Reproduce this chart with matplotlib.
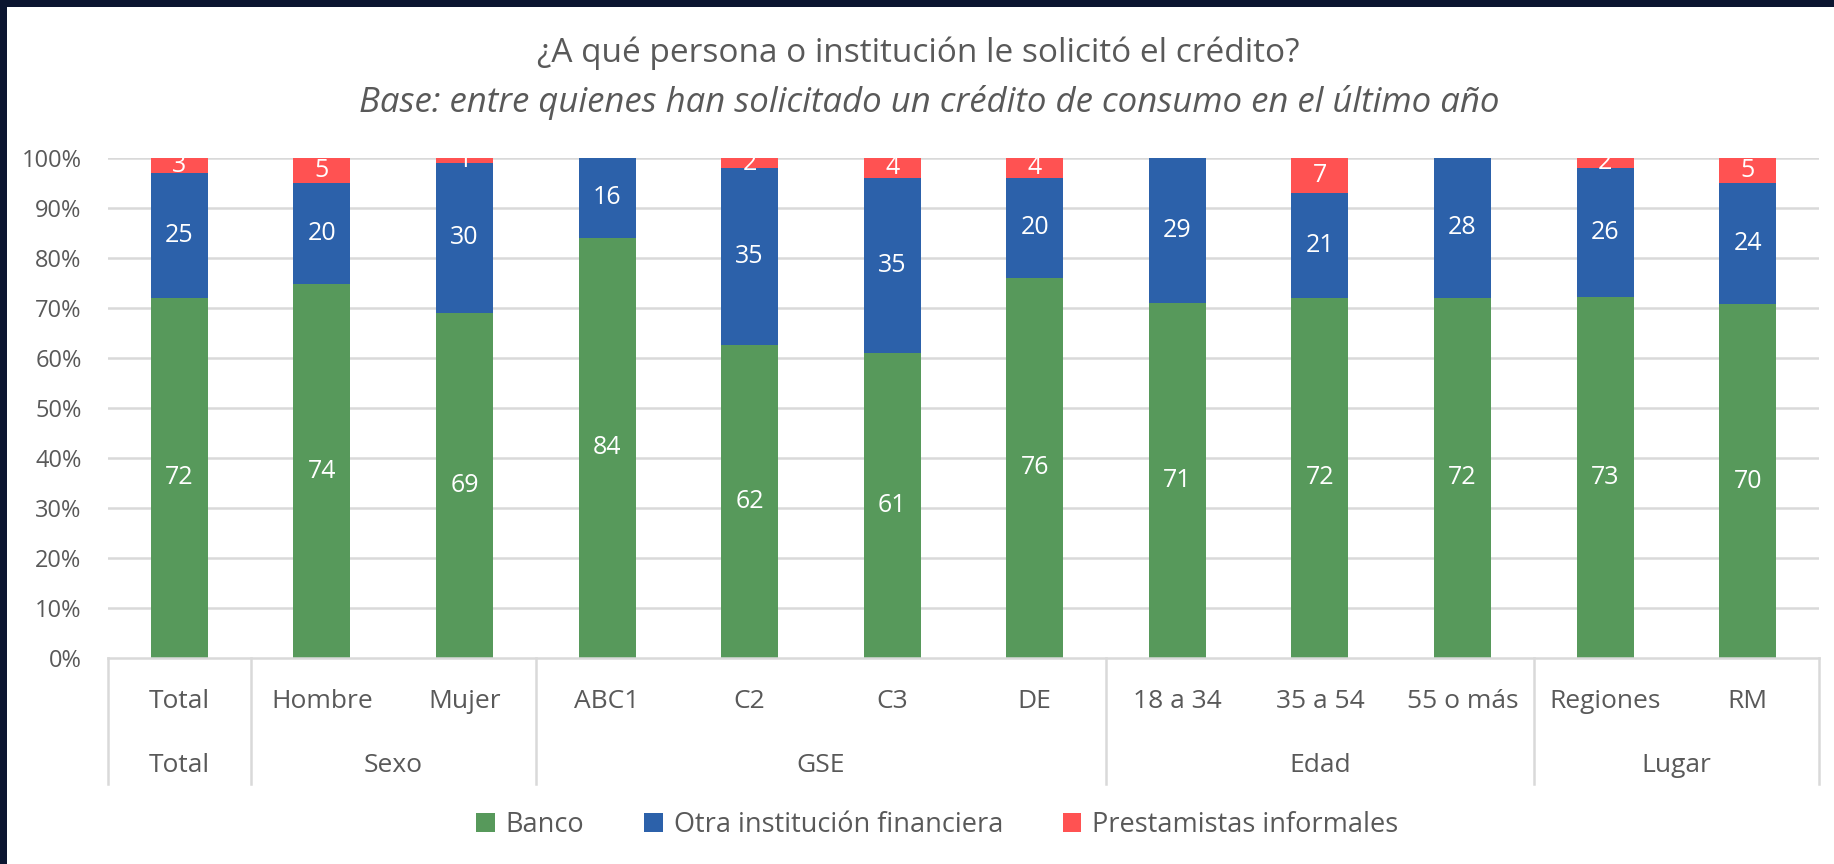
import matplotlib
matplotlib.use("Agg")
import matplotlib.pyplot as plt
from matplotlib.patches import Rectangle, Patch
import numpy as np

plt.rcParams['font.family'] = ['Open Sans', 'DejaVu Sans']

# data
categories = ['Total', 'Hombre', 'Mujer', 'ABC1', 'C2', 'C3', 'DE',
              '18 a 34', '35 a 54', '55 o más', 'Regiones', 'RM']
groups = ['Total', 'Sexo', 'GSE', 'Edad', 'Lugar']
group_sizes = [1, 2, 4, 3, 2]
series = ['Banco', 'Otra institución financiera', 'Prestamistas informales']
banco = [72, 74, 69, 84, 62, 61, 76, 71, 72, 72, 73, 70]
otra = [25, 20, 30, 16, 35, 35, 20, 29, 21, 28, 26, 24]
informal = [3, 5, 1, 0, 2, 4, 4, 0, 7, 0, 2, 5]

colors = ['#57995B', '#2C61AA', '#FF5252']
text_gray = '#595959'
grid_gray = '#D9D9D9'

W, H = 1834, 864
fig = plt.figure(figsize=(W / 100, H / 100), dpi=100)
fig.patch.set_facecolor('#0B1530')
# white panel
fig.patches.append(Rectangle((7 / W, 0), 1, 1 - 7 / H, transform=fig.transFigure,
                             facecolor='white', edgecolor='none', zorder=-10))

ax = fig.add_axes([108 / W, 206 / H, (1819 - 108) / W, 500 / H])
ax.set_facecolor('none')

vals = np.array([banco, otra, informal], dtype=float)
pct = vals / vals.sum(axis=0) * 100
x = np.arange(len(categories))
bottom = np.zeros(len(categories))
for i in range(3):
    ax.bar(x, pct[i], 0.4, bottom=bottom, color=colors[i], zorder=3)
    for j in range(len(categories)):
        if vals[i, j] > 0:
            ax.text(x[j], bottom[j] + pct[i, j] / 2, '%d' % vals[i, j],
                    ha='center', va='center', color='white', fontsize=18, zorder=4)
    bottom += pct[i]

ax.set_xlim(-0.5, len(categories) - 0.5)
ax.set_ylim(0, 100)
ax.set_yticks(range(0, 101, 10))
ax.set_yticklabels(['%d%%' % v for v in range(0, 101, 10)])
ax.tick_params(axis='y', length=0, pad=19, labelsize=17, labelcolor=text_gray)
for v in range(10, 101, 10):
    ax.axhline(v, color=grid_gray, lw=1.8, zorder=1)
ax.set_xticks([])
for s in ax.spines.values():
    s.set_visible(False)
ax.axhline(0, color=grid_gray, lw=1.8, zorder=5, clip_on=False)

# two-level category axis
trans = ax.get_xaxis_transform()
for j, c in enumerate(categories):
    ax.text(x[j], -0.088, c, transform=trans, ha='center', va='center',
            fontsize=19, color=text_gray)
start = 0
edges = [-0.5]
for g, n in zip(groups, group_sizes):
    mid = start + (n - 1) / 2
    ax.text(mid, -0.216, g, transform=trans, ha='center', va='center',
            fontsize=19, color=text_gray)
    start += n
    edges.append(start - 0.5)
for e in edges:
    ax.plot([e, e], [0, -0.252], transform=trans, color=grid_gray, lw=1.8,
            clip_on=False)

fig.text(0.5005, 1 - 53 / H, '¿A qué persona o institución le solicitó el crédito?',
         ha='center', va='center', fontsize=24, color=text_gray)
fig.text(0.5065, 1 - 102 / H,
         'Base: entre quienes han solicitado un crédito de consumo en el último año',
         ha='center', va='center', fontsize=25, color=text_gray, style='italic')

handles = [Patch(facecolor=c, edgecolor='none') for c in colors]
fig.legend(handles, series, loc='center', bbox_to_anchor=(0.511, 1 - 825 / H),
           ncol=3, frameon=False, fontsize=19.5, labelcolor=text_gray,
           handlelength=0.7, handleheight=0.7, handletextpad=0.4, columnspacing=2.2)

fig.savefig('out.png', dpi=100, facecolor=fig.get_facecolor())
